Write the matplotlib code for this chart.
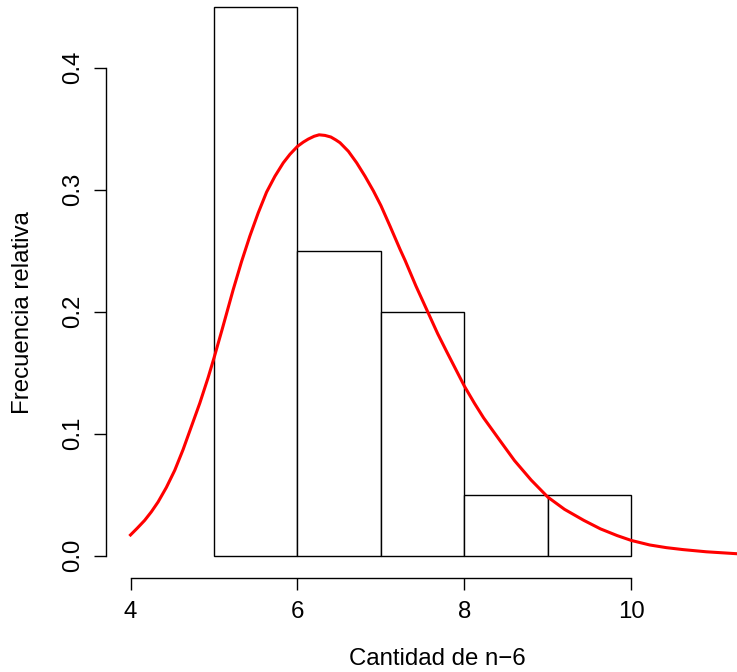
import matplotlib
matplotlib.use("Agg")
import matplotlib.pyplot as plt

plt.rcParams['font.family'] = ['Liberation Sans', 'DejaVu Sans']

# histogram (relative frequency per bin)
bin_left = [5, 6, 7, 8, 9]
rel_freq = [0.45, 0.25, 0.20, 0.05, 0.05]

# density curve, values
curve_x = [4.00, 4.08, 4.17, 4.25, 4.33, 4.43, 4.53, 4.63, 4.73, 4.83, 4.93, 5.00, 5.10,
           5.23, 5.33, 5.43, 5.53, 5.63, 5.73, 5.83, 5.91, 6.00, 6.07, 6.13, 6.20,
           6.26, 6.33, 6.40, 6.46, 6.51, 6.61, 6.71, 6.81, 6.91, 7.00, 7.11, 7.23,
           7.29, 7.42, 7.56, 7.68, 7.79, 8.00, 8.12, 8.23, 8.43, 8.60, 8.80, 9.00,
           9.20, 9.43, 9.63, 9.83, 10.00, 10.22, 10.42, 10.62, 10.90, 11.27]
curve_y = [0.017, 0.0225, 0.029, 0.036, 0.044, 0.056, 0.070, 0.087, 0.106, 0.125, 0.146, 0.162, 0.186,
           0.218, 0.241, 0.262, 0.281, 0.298, 0.311, 0.322, 0.329, 0.3355, 0.339, 0.3415, 0.3438,
           0.345, 0.3445, 0.3432, 0.3408, 0.3385, 0.3315, 0.322, 0.311, 0.299, 0.287, 0.270, 0.251,
           0.242, 0.221, 0.200, 0.182, 0.167, 0.139, 0.125, 0.113, 0.094, 0.078, 0.062, 0.048,
           0.038, 0.029, 0.022, 0.0165, 0.0125, 0.0088, 0.0066, 0.0050, 0.0032, 0.0016]

xticks = [4, 6, 8, 10]
yticks = [0.0, 0.1, 0.2, 0.3, 0.4]

W, H = 737, 672
fig = plt.figure(figsize=(W / 100, H / 100), dpi=100)
ax = fig.add_axes([115 / W, (H - 565) / H, 622 / W, 565 / H])

ax.bar(bin_left, rel_freq, width=1, align='edge', facecolor='white',
       edgecolor='black', linewidth=1.0)
ax.plot(curve_x, curve_y, color='red', lw=2.2, solid_joinstyle='round')

ax.set_xlim(3.8143, 11.266)
ax.set_ylim(-0.00762, 0.4555)

for s in ['top', 'right']:
    ax.spines[s].set_visible(False)
ax.spines['left'].set_position(('outward', 6.5))
ax.spines['bottom'].set_position(('outward', 9.4))
ax.spines['left'].set_bounds(0, 0.4)
ax.spines['bottom'].set_bounds(4, 10)
ax.spines['left'].set_linewidth(1.0)
ax.spines['bottom'].set_linewidth(1.0)

ax.set_xticks(xticks)
ax.set_xticklabels([str(t) for t in xticks])
ax.set_yticks(yticks)
ax.set_yticklabels(['%.1f' % t for t in yticks])
ax.tick_params(axis='both', length=8.5, width=1.0, labelsize=17.3, colors='black')
ax.tick_params(axis='x', pad=8)
ax.tick_params(axis='y', pad=7)
for lbl in ax.get_yticklabels():
    lbl.set_rotation(90)
    lbl.set_va('center')

fig.text(437.5 / W, 1 - 665 / H, 'Cantidad de n\u22126', ha='center', va='baseline',
         fontsize=17.3)
fig.text(23 / W, 1 - 313 / H, 'Frecuencia relativa', ha='center', va='center',
         rotation=90, fontsize=17.3)

fig.savefig('out.png', dpi=100)
